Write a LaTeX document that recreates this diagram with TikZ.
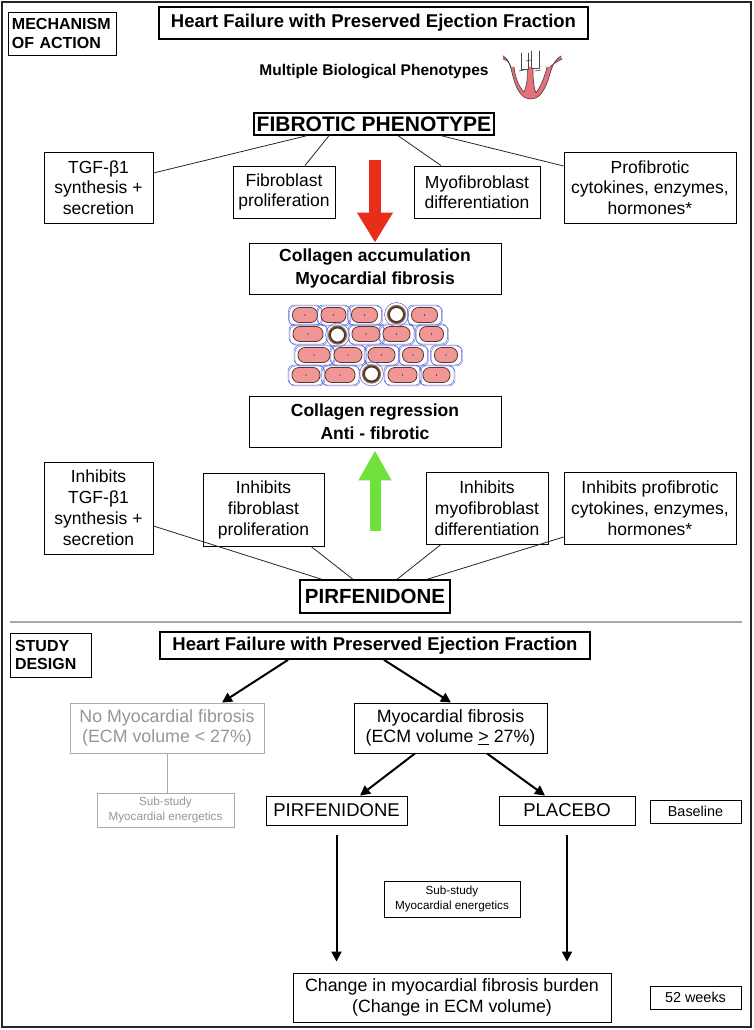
\documentclass[tikz,border=0pt]{standalone}
\usepackage{fontspec}
\setmainfont{Liberation Sans}
\usetikzlibrary{arrows.meta,calc}
\definecolor{redarr}{RGB}{232,45,25}
\definecolor{greenarr}{RGB}{110,225,60}
\definecolor{pinkcell}{RGB}{240,150,150}
\definecolor{cellline}{RGB}{90,55,40}
\definecolor{bluecell}{RGB}{90,100,215}
\definecolor{ringbrown}{RGB}{85,55,30}
\definecolor{heartpink}{RGB}{232,112,122}
\definecolor{heartline}{RGB}{80,70,70}
\definecolor{grayt}{RGB}{150,150,150}
\definecolor{graybox}{RGB}{170,170,170}
\newcommand\fsz[2]{\fontsize{#1}{#2}\selectfont}
\newcommand\tcell[3]{%
  \draw[bluecell, line width=0.5pt, rounded corners=6pt] (#1-#3/2-4,#2-10) rectangle (#1+#3/2+4,#2+10);
  \draw[bluecell, line width=0.4pt, rounded corners=6pt] (#1-#3/2-3,#2-9) rectangle (#1+#3/2+5,#2+11);
  \draw[cellline, fill=pinkcell, line width=0.8pt, rounded corners=7pt] (#1-#3/2,#2-7.5) rectangle (#1+#3/2,#2+7.5);
  \fill (#1,#2) circle (0.6pt);}
\newcommand\tring[2]{%
  \draw[bluecell, line width=0.5pt] (#1,#2) circle (12pt);
  \draw[ringbrown!70, line width=3.2pt] (#1,#2) circle (8pt);
  \draw[ringbrown, line width=1.8pt, fill=white] (#1,#2) circle (7.5pt);}
\tikzset{
  bx/.style={draw, line width=0.9pt, inner sep=0pt, align=center},
  conn/.style={line width=0.8pt, draw=black!85},
  arr/.style={line width=2pt, -{Triangle[length=10pt,width=10pt]}},
  rg/.style={font=\fsz{17.5}{20.5}},
}
\begin{document}
\begin{tikzpicture}[x=1pt,y=-1pt]
\useasboundingbox (0,0) rectangle (753,1030);
\fill[white] (0,0) rectangle (753,1030);
\draw[line width=2.5pt, black!85] (2,2) rectangle (751,1027);

% ---------- Mechanism of action ----------
\node[bx, text width=100pt, minimum width=108pt, minimum height=43pt, align=left, font=\bfseries\fsz{16}{18.5}] (mech) at (62,33.5) {MECHANISM\\OF ACTION};
\node[bx, line width=1.8pt, minimum width=429pt, minimum height=32pt, font=\bfseries\fsz{18.5}{22}] (hf1) at (373.5,23) {Heart Failure with Preserved Ejection Fraction};
\node[inner sep=0pt, font=\bfseries\fsz{15.5}{18}] (multi) at (374,72) {Multiple Biological Phenotypes};

% heart icon
\begin{scope}[line join=round, line cap=round]
\fill[heartpink] (503,56) .. controls (511,60) and (511,72) .. (515,83) .. controls (519,94) and (524,99) .. (531,99) .. controls (538,99) and (543,93) .. (547,83) .. controls (551,72) and (552,61) .. (561,56) -- (562,59) .. controls (556,62) and (553,64) .. (550,67) -- (511,67) .. controls (509,62) and (507,60) .. (503,59) -- cycle;
\draw[heartline, line width=0.7pt] (503,56) .. controls (511,60) and (511,72) .. (515,83) .. controls (519,94) and (524,99) .. (531,99) .. controls (538,99) and (543,93) .. (547,83) .. controls (551,72) and (552,61) .. (561,56);
\draw[heartline, line width=0.7pt] (562,59) .. controls (556,62) and (553,64) .. (550,67);
\draw[heartline, line width=0.7pt] (503,59) .. controls (507,60) and (509,62) .. (511,67);
% cavities
\fill[white] (514,67) .. controls (515,76) and (518,86) .. (524,92) .. controls (527,86) and (528,75) .. (527,67) -- cycle;
\draw[heartline, line width=0.7pt] (514,67) .. controls (515,76) and (518,86) .. (524,92) .. controls (527,86) and (528,75) .. (527,67);
\fill[white] (533,67) .. controls (533,76) and (533,86) .. (536,93) .. controls (541,86) and (545,76) .. (547,67) -- cycle;
\draw[heartline, line width=0.7pt] (533,67) .. controls (533,76) and (533,86) .. (536,93) .. controls (541,86) and (545,76) .. (547,67);
% vessels
\draw[heartline, line width=0.6pt, fill=white] (521,53) -- (521,69) -- (528,69) -- (528,53);
\draw[heartline, line width=0.6pt, fill=white] (531,51) -- (531,68) -- (539,68) -- (539,51);
\draw[heartline, line width=0.6pt] (519,71) -- (524,70) (535,71) -- (541,70) (526,61) -- (531,60);
\end{scope}

\node[bx, line width=1.3pt, minimum width=240pt, minimum height=22pt, font=\bfseries\fsz{21}{24}] (fib) at (374,124) {FIBROTIC PHENOTYPE};

\node[bx, rg, minimum width=109pt, minimum height=71pt] (tgf) at (98.5,187.5) {TGF-β1\\synthesis +\\secretion};
\node[bx, rg, minimum width=102pt, minimum height=52pt] (fibro) at (284,192) {Fibroblast\\proliferation};
\node[bx, rg, minimum width=126pt, minimum height=52pt] (myo) at (477,192) {Myofibroblast\\differentiation};
\node[bx, rg, minimum width=172pt, minimum height=71pt] (prof) at (650,187.5) {Profibrotic\\cytokines, enzymes,\\hormones*};

\draw[conn] ([xshift=-67pt]fib.south) -- ([yshift=14.5pt]tgf.east);
\draw[conn] ([xshift=-45pt]fib.south) -- ([xshift=21pt]fibro.north);
\draw[conn] ([xshift=24pt]fib.south) -- ([xshift=-36pt]myo.north);
\draw[conn] ([xshift=67pt]fib.south) -- ([yshift=21.5pt]prof.west);

\node[bx, minimum width=252pt, minimum height=51pt, font=\bfseries\fsz{17.5}{22.5}] (coll1) at (375,268.5) {Collagen accumulation\\Myocardial fibrosis};
\coordinate (redtop) at (375,160);
\draw[redarr, line width=12pt, -{Triangle[length=30pt,width=34pt]}] (redtop) -- (coll1.north);

% tissue
\tcell{305}{315}{25} \tcell{333.5}{315}{25} \tcell{364.5}{315}{26} \tring{396.5}{314.5} \tcell{424.5}{315}{26}
\tcell{308}{334}{30} \tring{337.5}{335} \tcell{366}{334}{28} \tcell{396.5}{334}{27} \tcell{431.5}{334}{24}
\tcell{314}{355}{32} \tcell{348}{355}{28} \tcell{381.5}{355}{27} \tcell{413}{355}{21} \tcell{446}{355}{23}
\tcell{306}{375}{28} \tcell{340}{375}{30} \tring{371.5}{374} \tcell{402.5}{375}{29} \tcell{436.5}{375}{27}

\node[bx, minimum width=252pt, minimum height=51pt, font=\bfseries\fsz{17.5}{22.5}] (coll2) at (375,421.5) {Collagen regression\\Anti - fibrotic};
\coordinate (greenbot) at (375,531);
\draw[greenarr, line width=11pt, -{Triangle[length=30pt,width=31pt]}] (greenbot) -- ([yshift=-3pt]coll2.south);

\node[bx, font=\fsz{17.5}{21}, minimum width=109pt, minimum height=92pt] (itgf) at (98.5,508) {Inhibits\\TGF-β1\\synthesis +\\secretion};
\node[bx, font=\fsz{17.5}{21}, minimum width=121pt, minimum height=73pt] (ifib) at (263.5,509.5) {Inhibits\\fibroblast\\proliferation};
\node[bx, font=\fsz{17.5}{21}, minimum width=122pt, minimum height=72pt] (imyo) at (487,508) {Inhibits\\myofibroblast\\differentiation};
\node[bx, font=\fsz{17.5}{21}, minimum width=172pt, minimum height=72pt] (iprof) at (650,508) {Inhibits profibrotic\\cytokines, enzymes,\\hormones*};
\node[bx, line width=1.3pt, minimum width=150pt, minimum height=33pt, font=\bfseries\fsz{20.5}{24}] (pirf) at (375,596.5) {PIRFENIDONE};

\draw[conn] ([xshift=-53pt]pirf.north) -- ([yshift=-18pt]itgf.east);
\draw[conn] ([xshift=-22pt]pirf.north) -- ([xshift=47.5pt]ifib.south);
\draw[conn] ([xshift=22pt]pirf.north) -- ([xshift=-46pt]imyo.south);
\draw[conn] ([xshift=52pt]pirf.north) -- ([yshift=-29pt]iprof.west);

\draw[graybox, line width=1.8pt] (10,622) -- (742,622);

% ---------- Study design ----------
\node[bx, text width=71pt, minimum width=81pt, minimum height=44pt, align=left, font=\bfseries\fsz{16}{18.5}] (study) at (50.5,655) {STUDY\\DESIGN};
\node[bx, line width=1.8pt, minimum width=430pt, minimum height=27pt, font=\bfseries\fsz{18.5}{22}] (hf2) at (375,645.5) {Heart Failure with Preserved Ejection Fraction};
\node[bx, draw=graybox, text=grayt, minimum width=194pt, minimum height=50pt, font=\fsz{17.8}{20.5}] (nomyo) at (167,728) {No Myocardial fibrosis\\(ECM volume < 27\%)};
\node[bx, minimum width=193pt, minimum height=50pt, font=\fsz{17.8}{20.5}] (myo2) at (450.5,728) {Myocardial fibrosis\\(ECM volume \underline{>} 27\%)};
\node[bx, draw=graybox, text=grayt, line width=0.8pt, minimum width=137pt, minimum height=34pt, font=\fsz{11.7}{14.5}] (sub1) at (165.5,810) {Sub-study\\Myocardial energetics};
\node[bx, minimum width=141pt, minimum height=29pt, font=\fsz{18.5}{21}] (pirf2) at (336.5,810.5) {PIRFENIDONE};
\node[bx, minimum width=136pt, minimum height=29pt, font=\fsz{18.5}{21}] (plac) at (567,810.5) {PLACEBO};
\node[bx, minimum width=91pt, minimum height=23pt, font=\fsz{14.4}{17}] (base) at (695.5,811.5) {Baseline};
\node[bx, line width=0.8pt, minimum width=136pt, minimum height=36pt, font=\fsz{11.7}{14.5}] (sub2) at (452,899) {Sub-study\\Myocardial energetics};
\node[bx, minimum width=318pt, minimum height=49pt, font=\fsz{17.8}{21}] (change) at (452,997.5) {Change in myocardial fibrosis burden\\(Change in ECM volume)};
\node[bx, minimum width=91pt, minimum height=23pt, font=\fsz{14.4}{17}] (weeks) at (695.5,997.5) {52 weeks};

\draw[arr] ([xshift=-87pt]hf2.south) -- ([xshift=55pt]nomyo.north);
\draw[arr] ([xshift=9pt]hf2.south) -- ([xshift=0.5pt]myo2.north);
\draw[arr] ([xshift=-35.5pt]myo2.south) -- ([xshift=23.5pt]pirf2.north);
\draw[arr] ([xshift=36.5pt]myo2.south) -- ([xshift=-22pt]plac.north);
\draw[arr, shorten <=10pt, shorten >=11pt] (pirf2.south) -- (pirf2.south |- change.north);
\draw[arr, shorten <=10pt, shorten >=11pt] (plac.south) -- (plac.south |- change.north);
\draw[graybox, line width=1pt] (nomyo.south) -- (nomyo.south |- sub1.north);
\end{tikzpicture}
\end{document}
